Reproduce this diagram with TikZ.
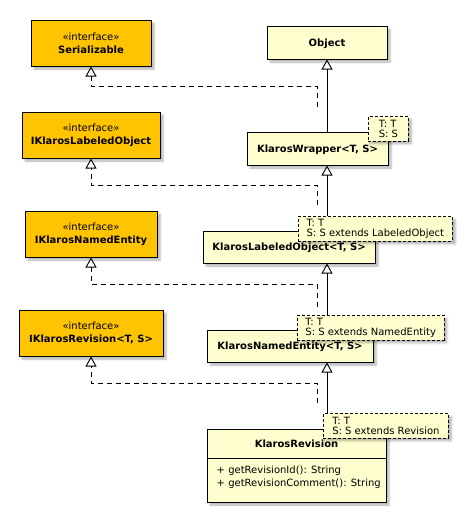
\documentclass[tikz,border=0pt]{standalone}
\usepackage{fontspec}
\setmainfont{DejaVu Sans}
\usetikzlibrary{arrows.meta,shadows.blur}
\definecolor{ifill}{RGB}{255,196,0}
\definecolor{cfill}{RGB}{254,254,206}
\begin{document}
\begin{tikzpicture}[x=1pt,y=-1pt, font=\fontsize{10}{10.5}\selectfont,
 shad/.style={blur shadow={shadow xshift=3pt,shadow yshift=-3pt,shadow blur steps=5,shadow opacity=30,shadow blur radius=2pt}},
 iface/.style={draw=black, line width=1pt, fill=ifill, shad, align=center, inner sep=0pt, minimum height=46pt},
 cls/.style={draw=black, line width=1pt, fill=cfill, shad, inner sep=0pt, text height=7.3pt, text depth=0pt, font=\fontsize{10}{10.5}\selectfont\bfseries},
 tmpl/.style={draw=black, line width=0.8pt, dash pattern=on 3pt off 2pt, fill=cfill, shad, align=left, inner xsep=8pt, inner ysep=0pt, anchor=north west, minimum height=24.5pt, font=\fontsize{10}{10}\selectfont},
 gen/.style={-{Triangle[open,length=10pt,width=11pt]}, line width=0.9pt},
 real/.style={gen, dash pattern=on 5pt off 4pt}
]
\useasboundingbox (0,0) rectangle (472,522);
% interfaces
\node[iface, minimum width=120pt] (ser) at (91,43) {«interface»\\[2.5pt]\textbf{Serializable}};
\node[iface, minimum width=138pt] (ilo) at (91,135) {«interface»\\[2.5pt]\textbf{IKlarosLabeledObject}};
\node[iface, minimum width=132pt] (ine) at (91,234) {«interface»\\[2.5pt]\textbf{IKlarosNamedEntity}};
\node[iface, minimum width=144pt] (ir) at (91,333) {«interface»\\[2.5pt]\textbf{IKlarosRevision<T, S>}};
% classes
\node[cls, minimum width=120pt, minimum height=33pt] (ob) at (327,42.5) {Object};
\node[cls, minimum width=141pt, minimum height=33pt] (kw) at (317.5,148.5) {KlarosWrapper<T, S>};
\node[cls, minimum width=172pt, minimum height=32pt] (lo) at (289,247) {KlarosLabeledObject<T, S>};
\node[cls, minimum width=166pt, minimum height=32pt] (ne) at (290,346) {KlarosNamedEntity<T, S>};
\node[cls, minimum width=179pt, minimum height=73pt, text height=0pt] (kr) at (296.5,465.5) {};
\node[font=\fontsize{10}{10.5}\selectfont\bfseries, text height=7.3pt, text depth=0pt, inner sep=0pt] (krn) at ([yshift=-15pt]kr.north) {KlarosRevision};
\draw[line width=1pt] ([yshift=-30pt]kr.north west) -- ([yshift=-30pt]kr.north east);
\node[anchor=north west, align=left, inner sep=0pt] (krm) at ([xshift=10pt,yshift=-37pt]kr.north west) {+ getRevisionId(): String\\[2.5pt]+ getRevisionComment(): String};
% generalisations
\draw[gen] (ob.south |- kw.north) -- (ob.south);
\draw[gen] (ob.south |- lo.north) -- (ob.south |- kw.south);
\draw[gen] (ob.south |- ne.north) -- (ob.south |- lo.south);
\draw[gen] (ob.south |- kr.north) -- (ob.south |- ne.south);
% realisations
\coordinate (kwd) at (317,107);
\coordinate (lod) at (317,205);
\coordinate (ned) at (317,307);
\coordinate (krd) at (317,403);
\draw[real] (kwd) -- ++(0,-21) -| (ser.south);
\draw[real] (lod) -- ++(0,-20) -| (ilo.south);
\draw[real] (ned) -- ++(0,-23) -| (ine.south);
\draw[real] (krd) -- ++(0,-20) -| (ir.south);
% template boxes
\node[tmpl, minimum width=40pt] (tkw) at (368,116) {T: T\\S: S};
\node[tmpl, minimum width=154pt] (tlo) at (298,216) {T: T\\S: S extends LabeledObject};
\node[tmpl, minimum width=141pt] (tne) at (297,315) {T: T\\S: S extends NamedEntity};
\node[tmpl, minimum width=125pt] (tkr) at (323,413) {T: T\\S: S extends Revision};
\end{tikzpicture}
\end{document}
